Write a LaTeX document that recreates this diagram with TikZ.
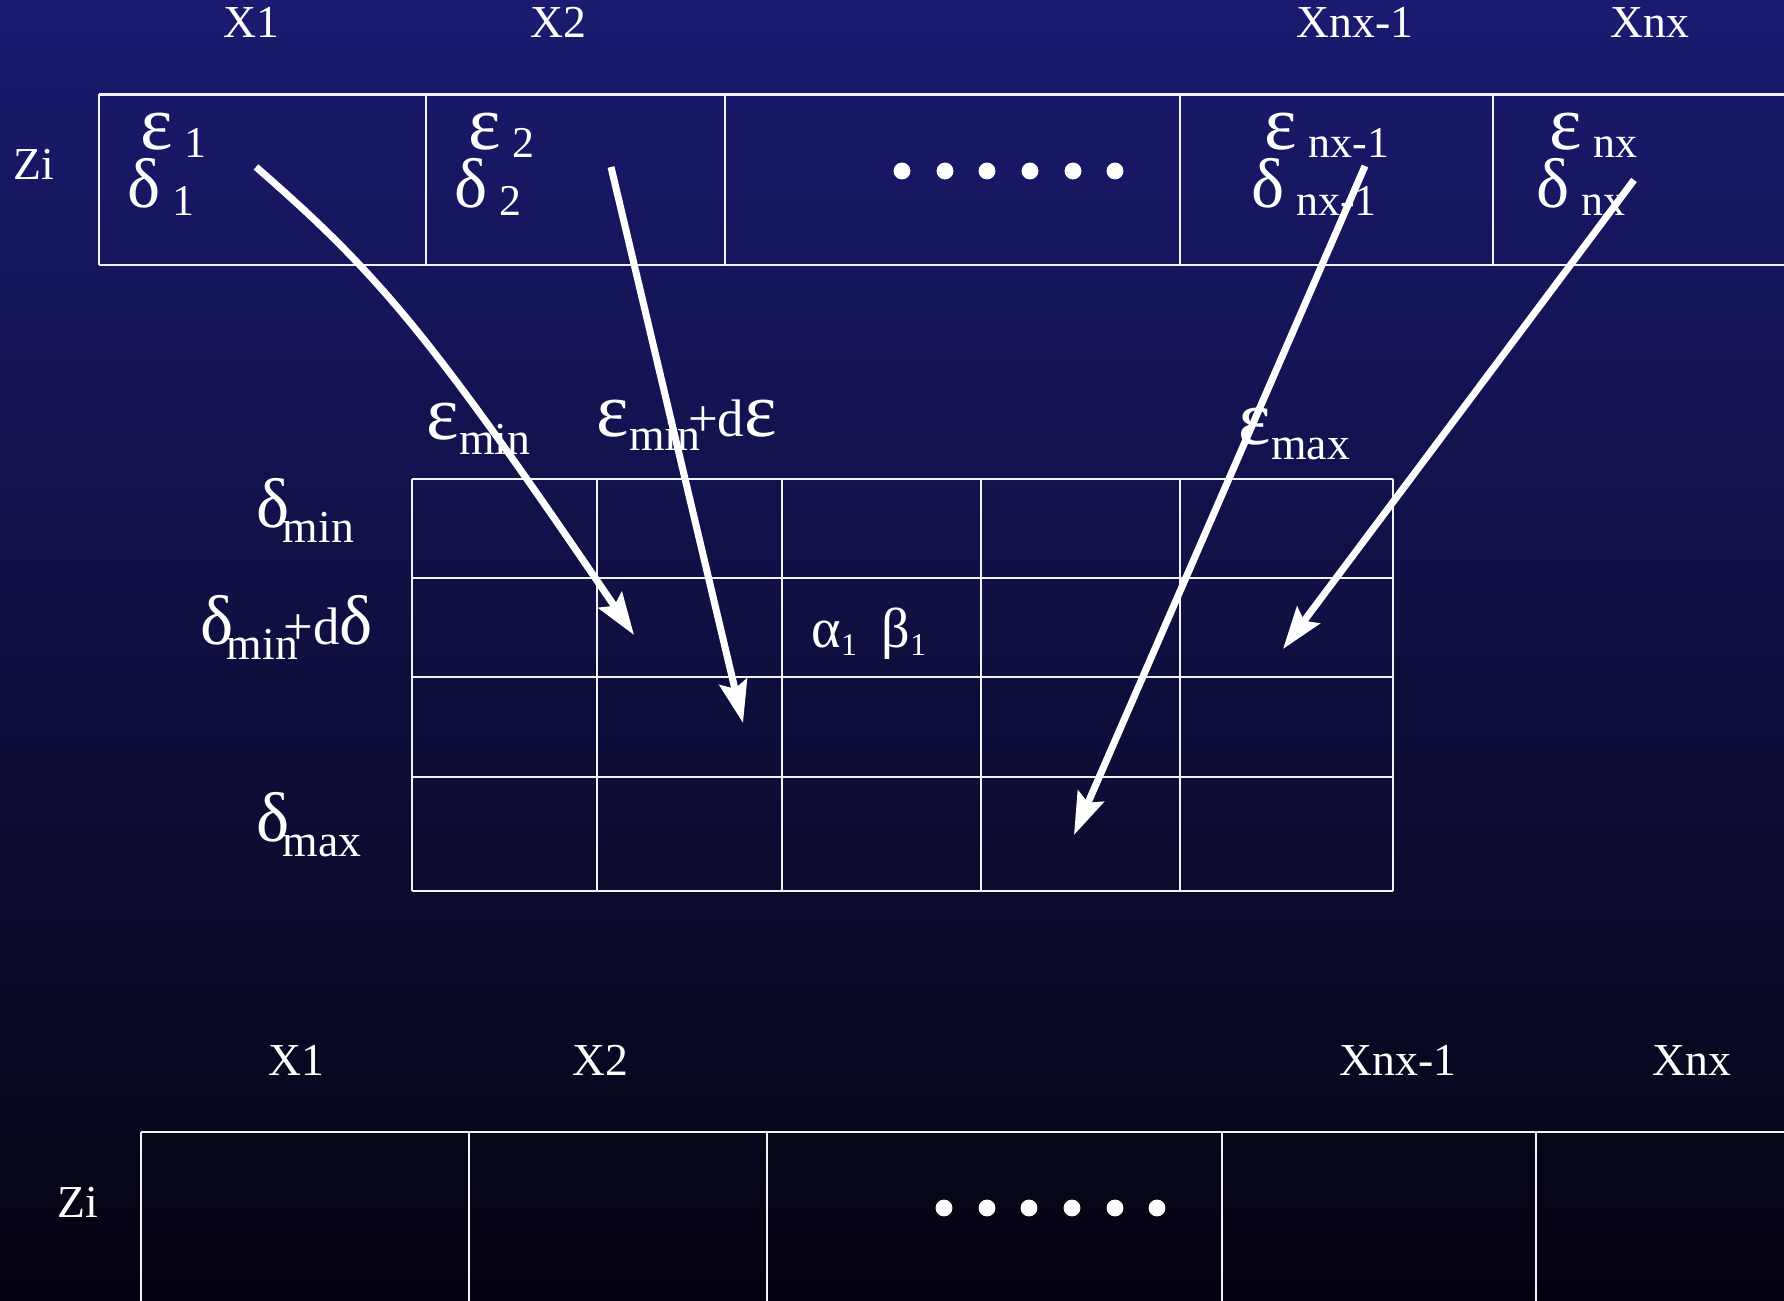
\documentclass[tikz,border=0pt]{standalone}
\usepackage{fontspec}
\setmainfont{Liberation Serif}
\usepackage{tikz}
\usetikzlibrary{arrows.meta}
\definecolor{gdTop}{HTML}{1A1A70}
\definecolor{gdBottom}{HTML}{040410}
\definecolor{gdLine}{HTML}{F2F2F8}
\newcommand{\gk}[1]{{\fontsize{20}{24}\selectfont #1}}
\newcommand{\gke}[1]{{\fontsize{22}{26}\selectfont #1}}
\newcommand{\gks}[1]{{\fontsize{16}{19}\selectfont #1}}
\newcommand{\plusd}{{\fontsize{15}{18}\selectfont +d}}
\newcommand{\cellsub}[1]{\lower2pt\hbox{\fontsize{12.5}{15}\selectfont #1}}
\newcommand{\lowsub}[1]{\lower4.2pt\hbox{#1}}
\newcommand{\tinysub}[1]{\lower2pt\hbox{\fontsize{9}{11}\selectfont #1}}

\begin{document}
\begin{tikzpicture}[x=0.01cm, y=-0.01cm,
  tabrule/.style={draw=gdLine, line width=0.75pt},
  flow/.style={draw=white, line width=2pt, -{Stealth[length=12pt, width=8pt, inset=2pt]}},
  lbl/.style={text=white, inner sep=0pt, font=\fontsize{13}{15}\selectfont},
  sublbl/.style={lbl, anchor=base west}
]
  \useasboundingbox (0,0) rectangle (1784,1301);
  \shade[top color=gdTop, bottom color=gdBottom] (0,0) rectangle (1784,1301);

  % top table
  \draw[tabrule] (99,94.5) -- (1784,94.5);
  \draw[tabrule] (99,265) -- (1784,265);
  \draw[tabrule] (99,94.5) -- (99,265);
  \draw[tabrule] (426,94.5) -- (426,265);
  \draw[tabrule] (725,94.5) -- (725,265);
  \draw[tabrule] (1180,94.5) -- (1180,265);
  \draw[tabrule] (1493,94.5) -- (1493,265);

  \node[lbl, anchor=base] (tx1) at (251,38) {X1};
  \node[lbl, anchor=base] (tx2) at (558,38) {X2};
  \node[lbl, anchor=base] (txn1) at (1355,38) {Xnx-1};
  \node[lbl, anchor=base] (txn) at (1650,38) {Xnx};
  \node[lbl, anchor=base] (tzi) at (34,180) {Zi};

  \node[sublbl] (te1) at (140,150) {\gke{ε}\ \cellsub{1}};
  \node[sublbl] (td1) at (127,208) {\gk{δ}\ \cellsub{1}};
  \node[sublbl] (te2) at (468,150) {\gke{ε}\ \cellsub{2}};
  \node[sublbl] (td2) at (454,208) {\gk{δ}\ \cellsub{2}};
  \node[sublbl] (ten1) at (1264,150) {\gke{ε}\ \cellsub{nx-1}};
  \node[sublbl] (tdn1) at (1251,208) {\gk{δ}\ \cellsub{nx-1}};
  \node[sublbl] (ten) at (1549,150) {\gke{ε}\ \cellsub{nx}};
  \node[sublbl] (tdn) at (1536,208) {\gk{δ}\ \cellsub{nx}};

  \fill[white] (902,171) circle[radius=2.4pt] (945,171) circle[radius=2.4pt]
    (987,171) circle[radius=2.4pt] (1030,171) circle[radius=2.4pt]
    (1073,171) circle[radius=2.4pt] (1115,171) circle[radius=2.4pt];

  % epsilon / delta grid
  \draw[tabrule, line width=0.65pt] (412,479) -- (1393,479);
  \draw[tabrule, line width=0.65pt] (412,578) -- (1393,578);
  \draw[tabrule, line width=0.65pt] (412,677) -- (1393,677);
  \draw[tabrule, line width=0.65pt] (412,777) -- (1393,777);
  \draw[tabrule, line width=0.65pt] (412,891) -- (1393,891);
  \draw[tabrule, line width=0.65pt] (412,479) -- (412,891);
  \draw[tabrule, line width=0.65pt] (597,479) -- (597,891);
  \draw[tabrule, line width=0.65pt] (782,479) -- (782,891);
  \draw[tabrule, line width=0.65pt] (981,479) -- (981,891);
  \draw[tabrule, line width=0.65pt] (1180,479) -- (1180,891);
  \draw[tabrule, line width=0.65pt] (1393,479) -- (1393,891);

  \node[sublbl] (cemin) at (426,440) {\gke{ε}\lowsub{min}};
  \node[sublbl] (cemind) at (596,437) {\gke{ε}\lower3.7pt\hbox{min}\kern-3.5pt\plusd\gke{ε}};
  \node[sublbl] (cemax) at (1238,445) {\gke{ε}\lower4pt\hbox{max}};
  \node[sublbl] (rdmin) at (256,528) {\gk{δ}\kern-2pt\lowsub{min}};
  \node[sublbl] (rdmind) at (200,645) {\gk{δ}\kern-2pt\lowsub{min}\kern-4pt\plusd\gk{δ}};
  \node[sublbl] (rdmax) at (256,842) {\gk{δ}\kern-2pt\lowsub{max}};
  \node[sublbl] (ab) at (811,648) {\gks{α}\tinysub{1}\hspace{7pt}\gks{β}\tinysub{1}};

  % bottom table
  \draw[tabrule] (141,1132) -- (1784,1132);
  \draw[tabrule] (141,1132) -- (141,1301);
  \draw[tabrule] (469,1132) -- (469,1301);
  \draw[tabrule] (767,1132) -- (767,1301);
  \draw[tabrule] (1222,1132) -- (1222,1301);
  \draw[tabrule] (1536,1132) -- (1536,1301);

  \node[lbl, anchor=base] (bx1) at (296,1076) {X1};
  \node[lbl, anchor=base] (bx2) at (600,1076) {X2};
  \node[lbl, anchor=base] (bxn1) at (1398,1076) {Xnx-1};
  \node[lbl, anchor=base] (bxn) at (1692,1076) {Xnx};
  \node[lbl, anchor=base] (bzi) at (78,1218) {Zi};

  \fill[white] (944,1208) circle[radius=2.4pt] (987,1208) circle[radius=2.4pt]
    (1029,1208) circle[radius=2.4pt] (1072,1208) circle[radius=2.4pt]
    (1115,1208) circle[radius=2.4pt] (1157,1208) circle[radius=2.4pt];

  % mapping arrows
  \coordinate (from1) at (256,167);
  \coordinate (to1) at (634,635);
  \coordinate (from2) at (611,167);
  \coordinate (to2) at (743,723);
  \coordinate (from3) at (1365,166);
  \coordinate (to3) at (1074,835);
  \coordinate (from4) at (1634,180);
  \coordinate (to4) at (1283,649);
  \draw[flow] (from1) .. controls (380,275) and (430,335) .. (to1);
  \draw[flow] (from2) -- (to2);
  \draw[flow] (from3) -- (to3);
  \draw[flow] (from4) -- (to4);
\end{tikzpicture}
\end{document}
